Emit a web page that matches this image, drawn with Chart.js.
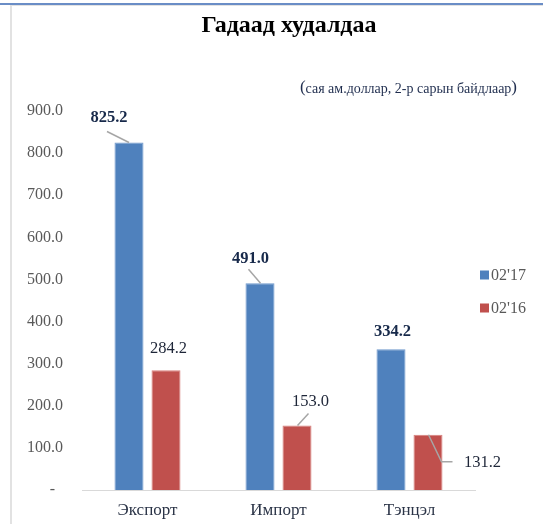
<!DOCTYPE html>
<html>
<head>
<meta charset="utf-8">
<script src="https://cdn.jsdelivr.net/npm/chart.js@4.4.0/dist/chart.umd.min.js"></script>
<style>
  html, body { margin: 0; padding: 0; background: #fff; }
  #wrap { width: 543px; height: 524px; }
</style>
</head>
<body>
<div id="wrap"><canvas id="myChart" width="543" height="524"></canvas></div>
<script>
// data
const categories = ['Экспорт', 'Импорт', 'Тэнцэл'];
const seriesNames = ["02'17", "02'16"];
const values2017 = [825.2, 491.0, 334.2];
const values2016 = [284.2, 153.0, 131.2];
const yMin = 0, yMax = 900, yStep = 100;

const titleText = 'Гадаад худалдаа';
const subtitleText = 'сая ам.доллар, 2-р сарын байдлаар';

const colors = ['#4f81bd', '#c0504d'];
const serif = '"Liberation Serif", "Times New Roman", serif';

// label offsets from bar top (dx, dy) and leader line points, per dataset/bar
const labelOffsets = [
  [[-20, -26], [-9.5, -26], [1.5, -19]],
  [[2.5, -23], [13.5, -25], [54.5, 27]]
];
const leaders = [
  [[[-22, -11], [0, 0]], [[-11.5, -14], [0.5, 0]], null],
  [null, [[11.5, -12], [0.5, 0]], [[0.5, 0], [13.5, 27], [24.5, 27]]]
];

const decor = {
  id: 'decor',
  beforeDraw(chart) {
    const c = chart.ctx;
    c.save();
    c.fillStyle = '#fff';
    c.fillRect(0, 0, chart.width, chart.height);
    // frame bits
    c.fillStyle = '#6a8dc6';
    c.fillRect(0, 3, chart.width, 2);
    c.fillStyle = '#e2e2e2';
    c.fillRect(10, 5, 2, chart.height - 5);
    c.fillRect(10, 5, chart.width - 10, 1);
    c.restore();
  },
  afterDraw(chart) {
    const c = chart.ctx;
    c.save();
    // title
    c.fillStyle = '#000';
    c.font = 'bold 24px ' + serif;
    c.textAlign = 'center';
    c.textBaseline = 'middle';
    c.fillText(titleText, 289, 26);
    // subtitle with larger parentheses
    c.textAlign = 'left';
    c.fillStyle = '#1f2d4e';
    c.font = '14px ' + serif;
    const w = c.measureText(subtitleText).width;
    c.font = '17px ' + serif;
    const pw = c.measureText('(').width;
    let x = 517 - (w + 2 * pw);
    c.fillText('(', x, 88);
    c.font = '14px ' + serif;
    c.fillText(subtitleText, x + pw, 89);
    c.font = '17px ' + serif;
    c.fillText(')', x + pw + w, 88);
    // legend
    c.font = '16px ' + serif;
    chart.data.datasets.forEach((ds, i) => {
      const y = 275 + i * 33;
      c.fillStyle = ds.backgroundColor;
      c.fillRect(480, y - 4.5, 9, 9);
      c.fillStyle = '#595959';
      c.fillText(ds.label, 491, y + 1);
    });
    // data labels
    chart.data.datasets.forEach((ds, i) => {
      const meta = chart.getDatasetMeta(i);
      meta.data.forEach((bar, j) => {
        const lead = leaders[i][j];
        if (lead) {
          c.strokeStyle = '#a6a6a6';
          c.lineWidth = 1.5;
          c.beginPath();
          lead.forEach((p, k) => {
            if (k === 0) c.moveTo(bar.x + p[0], bar.y + p[1]);
            else c.lineTo(bar.x + p[0], bar.y + p[1]);
          });
          c.stroke();
        }
        const off = labelOffsets[i][j];
        c.textAlign = 'center';
        c.font = (i === 0 ? 'bold ' : '') + '16.5px ' + serif;
        c.fillStyle = i === 0 ? '#17294a' : '#1e2638';
        c.fillText(ds.data[j].toFixed(1), bar.x + off[0], bar.y + off[1] + 1);
      });
    });
    c.restore();
  }
};

var ctx = document.getElementById('myChart').getContext('2d');
var myChart = new Chart(ctx, {
  type: 'bar',
  data: {
    labels: categories,
    datasets: [
      { label: seriesNames[0], data: values2017, backgroundColor: colors[0], borderColor: '#6f98cc', borderWidth: 1 },
      { label: seriesNames[1], data: values2016, backgroundColor: colors[1], borderColor: '#d8807d', borderWidth: 1 }
    ]
  },
  options: {
    responsive: false,
    animation: false,
    events: [],
    layout: { padding: { top: 111, right: 68, left: 0, bottom: 0 } },
    datasets: { bar: { categoryPercentage: 0.565, barPercentage: 0.784 } },
    plugins: {
      legend: { display: false },
      tooltip: { enabled: false }
    },
    scales: {
      x: {
        grid: { display: false, drawTicks: false },
        border: { display: true, color: '#d9d9d9', width: 1 },
        ticks: { color: '#2b3447', font: { family: serif, size: 17 }, padding: 10 },
        afterFit(s) { s.height = 34; }
      },
      y: {
        min: yMin,
        max: yMax,
        grid: { display: false, drawTicks: false },
        border: { display: false },
        ticks: {
          stepSize: yStep,
          color: '#595959',
          font: { family: serif, size: 16 },
          padding: 19,
          callback: v => v === 0 ? '-  ' : v.toFixed(1)
        },
        afterFit(s) { s.width = 82; }
      }
    }
  },
  plugins: [decor]
});
</script>
</body>
</html>
